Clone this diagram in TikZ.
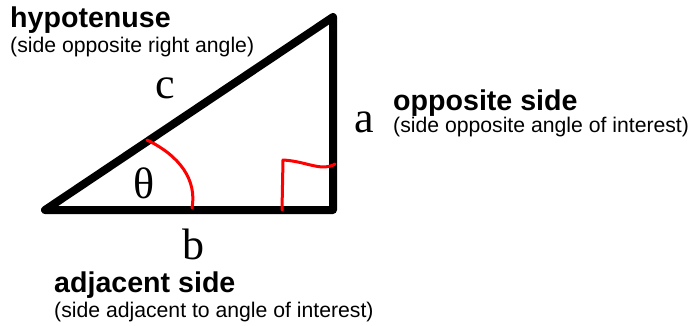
\documentclass[tikz,border=0pt]{standalone}
\usepackage{fontspec}
\setmainfont{Liberation Serif}
\newfontfamily\labelfont{Liberation Sans}
\begin{document}
\begin{tikzpicture}[x=1pt,y=-1pt,
  side/.style={line width=8pt, line cap=round, line join=round},
  redmark/.style={red, line width=3pt, line cap=round, line join=round},
  title/.style={inner sep=0pt, anchor=base west, font=\labelfont\bfseries\fontsize{28.6}{28.6}\selectfont},
  sub/.style={inner sep=0pt, anchor=base west, font=\labelfont\fontsize{21.2}{21.2}\selectfont},
  letter/.style={inner sep=0pt, anchor=base, font=\fontsize{44}{44}\selectfont}]
\useasboundingbox (0,0) rectangle (688,326);
\coordinate (A) at (45,210);
\coordinate (B) at (333,210);
\coordinate (C) at (333,17);
\draw[side] (A) -- (B) -- (C) -- cycle;
\coordinate (t1) at (147,140);
\coordinate (t2) at (192,208);
\draw[redmark] (t1) .. controls (180,156) and (197,180) .. (t2);
\coordinate (r1) at (282,210);
\coordinate (r2) at (283,160);
\coordinate (r3) at (335,164);
\draw[redmark] (r1) -- (r2) .. controls (300,161) and (310,166) .. (322,167) .. controls (328,167) and (332,166) .. (r3);
\node[title] (hyp) at (10,27.5) {hypotenuse};
\node[sub] (hyps) at (10,53) {(side opposite right angle)};
\node[title] (opp) at (393,111) {opposite side};
\node[sub] (opps) at (393,133) {(side opposite angle of interest)};
\node[title] (adj) at (54,292) {adjacent side};
\node[sub] (adjs) at (54,317) {(side adjacent to angle of interest)};
\node[letter] (c) at (165,99) {c};
\node[letter] (a) at (364,133) {a};
\node[letter] (b) at (193,259) {b};
\node[letter] (th) at (144,198) {θ};
\end{tikzpicture}
\end{document}
